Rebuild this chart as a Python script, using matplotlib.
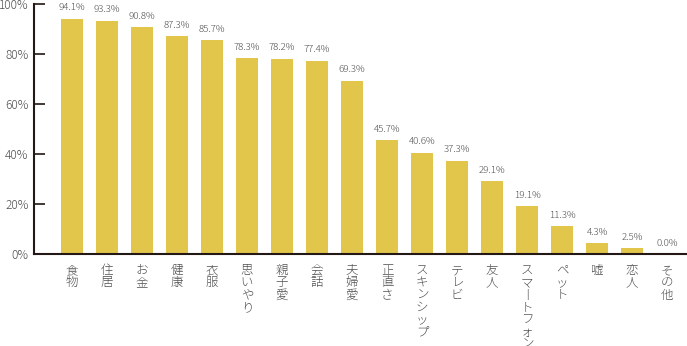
import matplotlib.pyplot as plt
import numpy as np

plt.rcParams['font.family'] = ['Noto Sans CJK JP', 'DejaVu Sans']

categories = ['食物', '住居', 'お金', '健康', '衣服', '思いやり', '親子愛', '会話', '夫婦愛',
              '正直さ', 'スキンシップ', 'テレビ', '友人', 'スマートフォン', 'ペット', '嘘', '恋人', 'その他']
values = [94.1, 93.3, 90.8, 87.3, 85.7, 78.3, 78.2, 77.4, 69.3,
          45.7, 40.6, 37.3, 29.1, 19.1, 11.3, 4.3, 2.5, 0.0]
yticks = [0, 20, 40, 60, 80, 100]

bar_color = '#e2c64c'
text_color = '#505050'
axis_color = '#231815'


def vertical(label):
    # stack characters top to bottom, long vowel mark turned upright
    return '\n'.join('丨' if c == 'ー' else c for c in label)


fig = plt.figure(figsize=(6.87, 3.46), dpi=100)
ax = fig.add_axes([34 / 687, 92 / 346, 653 / 687, 250 / 346])

x = np.arange(len(categories))
ax.bar(x, values, width=0.63, color=bar_color, zorder=2)

for xi, v in zip(x, values):
    ax.annotate(f'{v:.1f}%', (xi, v), xytext=(0, 4.5), textcoords='offset points',
                ha='center', va='bottom', fontsize=7, color=text_color, fontweight='light')

ax.set_xlim(-1.086, 17.57)
ax.set_ylim(0, 100)
ax.set_yticks(yticks)
ax.set_yticklabels([f'{t}%' for t in yticks], fontsize=8.5, color=text_color, fontweight='light')
ax.tick_params(axis='y', direction='in', length=8, width=1.2, color=axis_color, pad=4)
ax.set_xticks([])

for xi, cat in zip(x, categories):
    ax.text(xi, -4, vertical(cat), ha='center', va='top', fontsize=9,
            color=text_color, linespacing=0.93, fontweight='light')

for side in ['top', 'right']:
    ax.spines[side].set_visible(False)
for side in ['left', 'bottom']:
    ax.spines[side].set_color(axis_color)
    ax.spines[side].set_linewidth(1.5)

fig.savefig('out.png', dpi=100)
